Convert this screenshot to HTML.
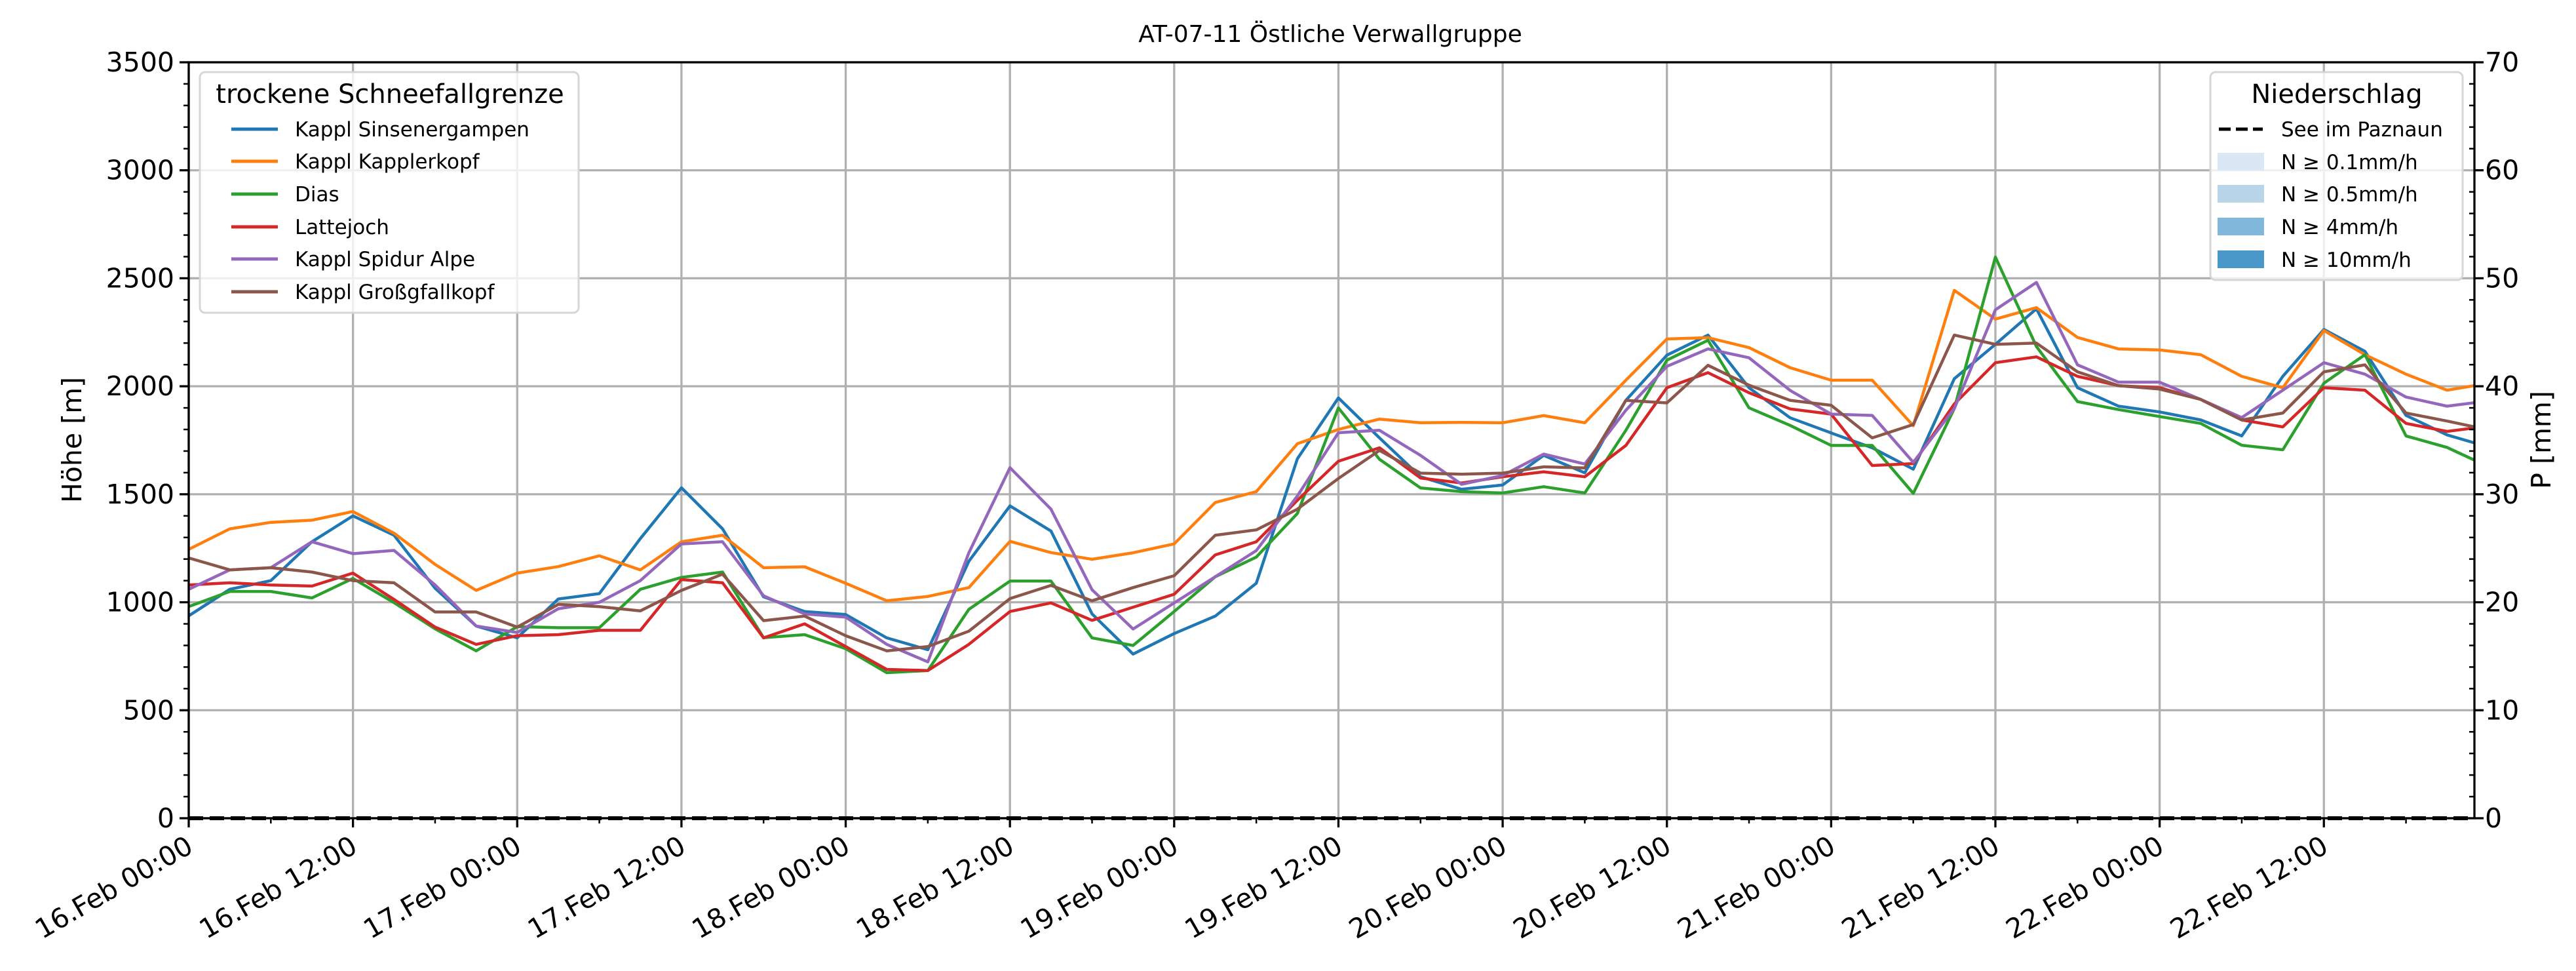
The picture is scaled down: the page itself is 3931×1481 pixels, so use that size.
<!DOCTYPE html>
<html><head><meta charset="utf-8"><style>
html,body{margin:0;padding:0;background:#fff}
svg{display:block;font-family:"DejaVu Sans","Liberation Sans",sans-serif}
</style></head><body>
<svg id="chart" width="3931" height="1481" viewBox="0 0 3931 1481" xmlns="http://www.w3.org/2000/svg">
<rect x="0" y="0" width="3931" height="1481" fill="#fff"/>
<g id="grid"></g>
<g id="series"></g>
<g id="axes"></g>
<text x="2030" y="64" font-size="36" text-anchor="middle">AT-07-11 Östliche Verwallgruppe</text>
<text transform="translate(124,671) rotate(-90)" font-size="41" text-anchor="middle">Höhe [m]</text>
<text transform="translate(3892,671) rotate(-90)" font-size="41" text-anchor="middle">P [mm]</text>
<g id="legend-left">
<rect x="305" y="110" width="578" height="367" rx="8" fill="#fff" fill-opacity="0.8" stroke="#d6d6d6" stroke-width="3"/>
<text x="595" y="157" font-size="40" text-anchor="middle">trockene Schneefallgrenze</text>
</g>
<g id="legend-right">
<rect x="3373" y="110" width="385" height="317" rx="8" fill="#fff" fill-opacity="0.8" stroke="#d6d6d6" stroke-width="3"/>
<text x="3566" y="157" font-size="40" text-anchor="middle">Niederschlag</text>
<line x1="3386" y1="197" x2="3453" y2="197" stroke="#000" stroke-width="5" stroke-dasharray="18,8"/>
<text x="3481" y="208" font-size="31">See im Paznaun</text>
<rect x="3384" y="233" width="71" height="27" fill="#dae8f5"/>
<text x="3481" y="258" font-size="31">N ≥ 0.1mm/h</text>
<rect x="3384" y="282" width="71" height="27" fill="#b9d5ea"/>
<text x="3481" y="307" font-size="31">N ≥ 0.5mm/h</text>
<rect x="3384" y="332" width="71" height="27" fill="#80b7da"/>
<text x="3481" y="357" font-size="31">N ≥ 4mm/h</text>
<rect x="3384" y="382" width="71" height="27" fill="#4a98c9"/>
<text x="3481" y="407" font-size="31">N ≥ 10mm/h</text>
</g>
</svg>
<script>
const hours = [0,3,6,9,12,15,18,21,24,27,30,33,36,39,42,45,48,51,54,57,60,63,66,69,72,75,78,81,84,87,90,93,96,99,102,105,108,111,114,117,120,123,126,129,132,135,138,141,144,147,150,153,156,159,162,165,167];
const sinsenergampen = [937,1060,1100,1280,1400,1310,1065,890,835,1015,1040,1295,1530,1340,1025,957,943,835,780,1190,1446,1330,946,760,855,936,1088,1664,1946,1761,1581,1523,1543,1680,1599,1935,2144,2237,1993,1854,1784,1715,1616,2035,2194,2359,1993,1908,1881,1844,1770,2046,2263,2162,1865,1775,1738];
const kapplerkopf = [1245,1340,1370,1380,1420,1320,1175,1055,1135,1165,1215,1150,1280,1310,1160,1164,1088,1007,1027,1068,1282,1230,1199,1229,1270,1462,1512,1734,1800,1848,1831,1833,1831,1864,1831,2028,2219,2225,2179,2086,2028,2028,1817,2444,2311,2364,2226,2173,2168,2146,2046,1993,2258,2146,2056,1982,2003];
const dias = [980,1050,1050,1020,1110,998,877,775,887,882,882,1060,1115,1140,836,850,785,674,684,967,1098,1098,835,800,957,1118,1209,1411,1900,1662,1529,1512,1506,1535,1506,1796,2121,2213,1900,1819,1726,1726,1504,1897,2598,2184,1929,1892,1860,1828,1727,1706,2014,2146,1770,1717,1658];
const lattejoch = [1080,1090,1080,1075,1135,1013,885,805,845,850,870,870,1105,1090,835,900,795,689,684,805,957,997,916,977,1037,1219,1280,1472,1653,1715,1575,1552,1581,1604,1581,1726,1993,2063,1970,1895,1871,1633,1642,1918,2109,2136,2046,2003,1993,1939,1844,1812,1993,1982,1828,1791,1807];
const spidurAlpe = [1060,1150,1160,1280,1225,1240,1080,890,860,970,1000,1100,1270,1280,1030,946,931,805,724,1229,1623,1431,1058,876,997,1118,1239,1492,1785,1796,1680,1546,1587,1686,1640,1889,2092,2173,2132,1981,1871,1865,1648,1897,2354,2481,2099,2019,2019,1939,1855,1982,2109,2056,1950,1908,1924];
const grossgfallkopf = [1205,1150,1160,1140,1100,1090,955,955,885,990,980,960,1055,1130,915,936,845,775,795,866,1017,1078,1007,1068,1123,1310,1335,1431,1573,1703,1598,1593,1598,1627,1622,1935,1923,2097,2005,1935,1912,1761,1823,2237,2194,2200,2067,2003,1987,1939,1844,1876,2067,2099,1876,1839,1812];
const precip = [0,0,0,0,0,0,0,0,0,0,0,0,0,0,0,0,0,0,0,0,0,0,0,0,0,0,0,0,0,0,0,0,0,0,0,0,0,0,0,0,0,0,0,0,0,0,0,0,0,0,0,0,0,0,0,0,0];
const seriesNames = ["Kappl Sinsenergampen","Kappl Kapplerkopf","Dias","Lattejoch","Kappl Spidur Alpe","Kappl Großgfallkopf"];
const seriesColors = ["#1f77b4","#ff7f0e","#2ca02c","#d62728","#9467bd","#8c564b"];
const seriesKeys = ["kappl-sinsenergampen","kappl-kapplerkopf","dias","lattejoch","kappl-spidur-alpe","kappl-grossgfallkopf"];
const allSeries = [sinsenergampen,kapplerkopf,dias,lattejoch,spidurAlpe,grossgfallkopf];
const yTicks = [0,500,1000,1500,2000,2500,3000,3500];
const y2Ticks = [0,10,20,30,40,50,60,70];
const xTickHours = [0,12,24,36,48,60,72,84,96,108,120,132,144,156];
const xTickLabels = ["16.Feb 00:00","16.Feb 12:00","17.Feb 00:00","17.Feb 12:00","18.Feb 00:00","18.Feb 12:00","19.Feb 00:00","19.Feb 12:00","20.Feb 00:00","20.Feb 12:00","21.Feb 00:00","21.Feb 12:00","22.Feb 00:00","22.Feb 12:00"];

const NS="http://www.w3.org/2000/svg";
const L=288,R=3776,T=95,B=1248,XMAX=167,YMAX=3500,Y2MAX=70;
const xs=h=>L+(R-L)*h/XMAX;
const ys=v=>B-(B-T)*v/YMAX;
const y2s=v=>B-(B-T)*v/Y2MAX;
function mk(tag,attrs,parent){const e=document.createElementNS(NS,tag);for(const k in attrs)e.setAttribute(k,attrs[k]);parent.appendChild(e);return e;}
const grid=document.getElementById('grid'),ser=document.getElementById('series'),ax=document.getElementById('axes');
yTicks.forEach(v=>{const g=mk('line',{x1:L,x2:R,y1:ys(v),y2:ys(v),stroke:'#b0b0b0','stroke-width':3.3},grid);

});
xTickHours.forEach(h=>{const g=mk('line',{x1:xs(h),x2:xs(h),y1:T,y2:B,stroke:'#b0b0b0','stroke-width':3.3},grid);

});
// precipitation baseline (dashed)
const pl=mk('polyline',{points:hours.map((h,i)=>xs(h)+','+y2s(precip[i])).join(' '),fill:'none',stroke:'#000','stroke-width':6,'stroke-dasharray':'22,10'},ser);


allSeries.forEach((arr,si)=>{
const p=mk('polyline',{points:hours.map((h,i)=>xs(h).toFixed(1)+','+ys(arr[i]).toFixed(1)).join(' '),fill:'none',stroke:seriesColors[si],'stroke-width':4.5,'stroke-linejoin':'round'},ser);


});
// spines
const fr=mk('rect',{x:L,y:T,width:R-L,height:B-T,fill:'none',stroke:'#000','stroke-width':3.3},ax);


yTicks.forEach(v=>{mk('line',{x1:L-14,x2:L,y1:ys(v),y2:ys(v),stroke:'#000','stroke-width':3.3},ax);
const t=mk('text',{x:L-22,y:ys(v)+14,'font-size':41,'text-anchor':'end'},ax);t.textContent=v;

});
for(let v=100;v<YMAX;v+=100){if(v%500)mk('line',{x1:L-8,x2:L,y1:ys(v),y2:ys(v),stroke:'#000','stroke-width':2.5},ax);}
y2Ticks.forEach(v=>{mk('line',{x1:R,x2:R+14,y1:y2s(v),y2:y2s(v),stroke:'#000','stroke-width':3.3},ax);
const t=mk('text',{x:R+16,y:y2s(v)+14,'font-size':41},ax);t.textContent=v;

});
for(let v=2;v<Y2MAX;v+=2){if(v%10)mk('line',{x1:R-8,x2:R,y1:y2s(v),y2:y2s(v),stroke:'#000','stroke-width':2.5},ax);}
xTickHours.forEach((h,i)=>{mk('line',{x1:xs(h),x2:xs(h),y1:B,y2:B+14,stroke:'#000','stroke-width':3.3},ax);
const t=mk('text',{x:xs(h)-6,y:B+24,'font-size':41,'text-anchor':'end','dominant-baseline':'hanging',transform:'rotate(-30 '+(xs(h)-6)+' '+(B+24)+')'},ax);t.textContent=xTickLabels[i];

});
for(let h=6;h<XMAX;h+=12){mk('line',{x1:xs(h),x2:xs(h),y1:B,y2:B+8,stroke:'#000','stroke-width':2.5},ax);}
// left legend entries
const lg=document.getElementById('legend-left');
const ly=[197,246,296,346,395,445];
seriesNames.forEach((n,i)=>{
const ln=mk('line',{x1:353,x2:424,y1:ly[i],y2:ly[i],stroke:seriesColors[i],'stroke-width':5},lg);


const t=mk('text',{x:450,y:ly[i]+11,'font-size':31},lg);t.textContent=n;


});
</script>
</body></html>
